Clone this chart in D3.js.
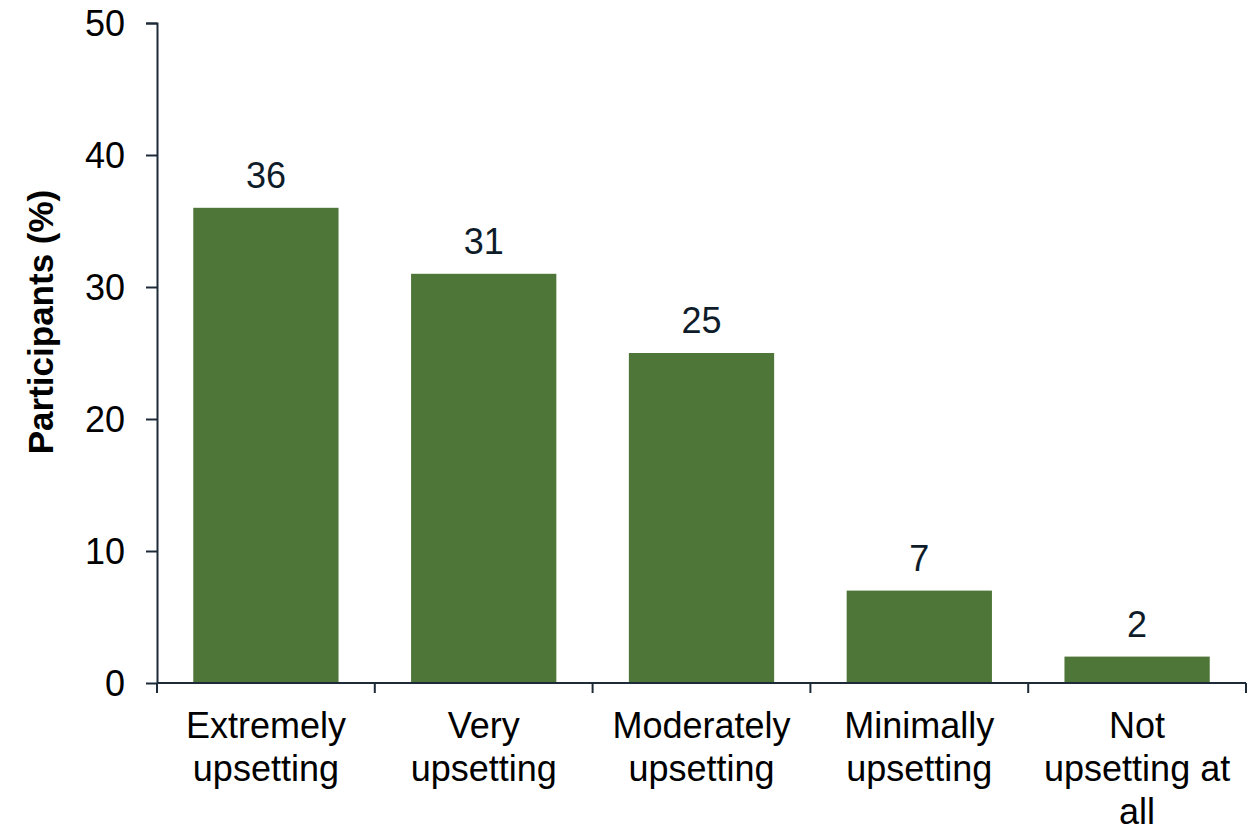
<!DOCTYPE html>
<html>
<head>
<meta charset="utf-8">
<script src="https://cdn.jsdelivr.net/npm/d3@7"></script>
<style>
  html, body { margin: 0; padding: 0; background: #fff; }
  svg text { font-family: "Liberation Sans", Arial, sans-serif; }
</style>
</head>
<body>
<div id="chart"></div>
<script>
// chart data
var categories = [
  ['Extremely', 'upsetting'],
  ['Very', 'upsetting'],
  ['Moderately', 'upsetting'],
  ['Minimally', 'upsetting'],
  ['Not', 'upsetting at', 'all']
];
var values = [36, 31, 25, 7, 2];
var yTicks = [0, 10, 20, 30, 40, 50];

var width = 1253, height = 827;
var margin = { top: 23, right: 7, bottom: 144, left: 157 };
var innerW = width - margin.left - margin.right;
var innerH = height - margin.top - margin.bottom;

var svg = d3.select('#chart').append('svg')
  .attr('width', width)
  .attr('height', height);

var g = svg.append('g').attr('transform', 'translate(' + margin.left + ',' + margin.top + ')');

var x = d3.scaleBand()
  .domain(d3.range(values.length))
  .range([0, innerW])
  .paddingInner(0.333)
  .paddingOuter(0.1665);

var y = d3.scaleLinear().domain([0, 50]).range([innerH, 0]);

var axisColor = '#1d2b38';
var barColor = '#4e7638';
var fs = 36;

// bars
g.selectAll('rect.bar')
  .data(values)
  .enter().append('rect')
  .attr('class', 'bar')
  .attr('x', function(d, i) { return x(i); })
  .attr('y', function(d) { return y(d); })
  .attr('width', x.bandwidth())
  .attr('height', function(d) { return innerH - y(d); })
  .attr('fill', barColor);

// value labels
g.selectAll('text.val')
  .data(values)
  .enter().append('text')
  .attr('class', 'val')
  .attr('x', function(d, i) { return x(i) + x.bandwidth() / 2; })
  .attr('y', function(d) { return y(d) - 20; })
  .attr('text-anchor', 'middle')
  .attr('font-size', fs)
  .attr('fill', '#0e1c2a')
  .text(function(d) { return d; });

// y axis
var yAxis = g.append('g')
  .call(d3.axisLeft(y).tickValues(yTicks).tickSize(11).tickPadding(21));
yAxis.selectAll('path, line').attr('stroke', axisColor).attr('stroke-width', 2);
yAxis.select('.domain').attr('d', 'M-11,0.5H0.5V' + innerH);
yAxis.selectAll('text')
  .attr('font-size', fs)
  .attr('fill', '#000')
  .attr('dy', '0.35em');

// x axis: ticks at category boundaries
var xLine = g.append('g').attr('transform', 'translate(0,' + innerH + ')');
xLine.append('line')
  .attr('x1', 0).attr('x2', innerW)
  .attr('stroke', axisColor).attr('stroke-width', 2);
var step = x.step();
xLine.selectAll('line.tick')
  .data(d3.range(values.length + 1))
  .enter().append('line')
  .attr('class', 'tick')
  .attr('x1', function(i) { return i * step; })
  .attr('x2', function(i) { return i * step; })
  .attr('y1', 0).attr('y2', 10)
  .attr('stroke', axisColor).attr('stroke-width', 2);

// category labels
var catLabels = xLine.selectAll('text.cat')
  .data(categories)
  .enter().append('text')
  .attr('class', 'cat')
  .attr('text-anchor', 'middle')
  .attr('font-size', fs)
  .attr('fill', '#000')
  .attr('transform', function(d, i) { return 'translate(' + (x(i) + x.bandwidth() / 2) + ',0)'; });
catLabels.selectAll('tspan')
  .data(function(d) { return d; })
  .enter().append('tspan')
  .attr('x', 0)
  .attr('y', function(d, j) { return 55 + j * 43; })
  .text(function(d) { return d; });

// y axis title
svg.append('text')
  .attr('transform', 'translate(53,322) rotate(-90)')
  .attr('text-anchor', 'middle')
  .attr('font-size', 35)
  .attr('font-weight', 'bold')
  .attr('fill', '#000')
  .text('Participants (%)');
</script>
</body>
</html>
